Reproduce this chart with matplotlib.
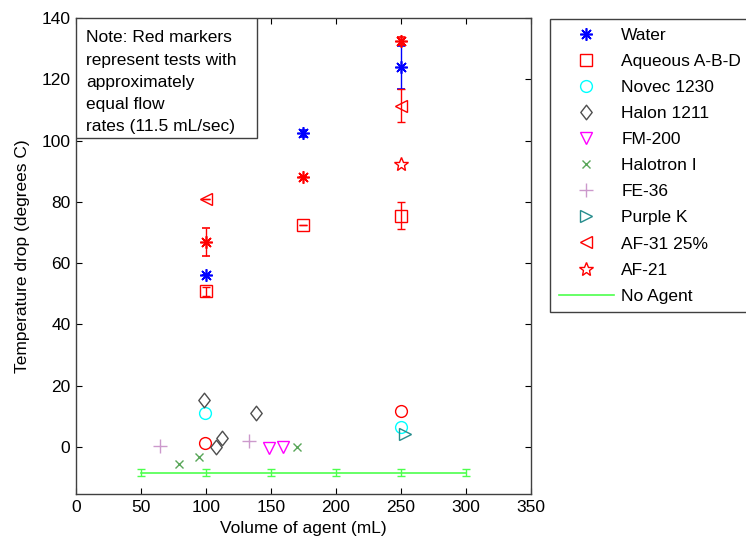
import matplotlib
matplotlib.use("Agg")
import matplotlib.pyplot as plt
from matplotlib.patches import Rectangle
from matplotlib.lines import Line2D
from matplotlib.path import Path

plt.rcParams['font.family'] = ['Liberation Sans', 'DejaVu Sans']
FS = 12.5

# ---- data ----
water_x = [100, 175, 250]
water_y = [56.0, 102.3, 123.9]
water_err = [0.0, 1.2, 7.0]
water_eq_x = [100, 175, 250]
water_eq_y = [67.0, 88.2, 132.5]
water_eq_err = [4.6, 0.0, 1.2]

aqueous_x = [100, 175, 250]
aqueous_y = [50.8, 72.3, 75.5]
aqueous_err = [1.5, 0.0, 4.3]

novec_x = [99, 250]
novec_y = [11.0, 6.4]
novec_eq_x = [99, 250]
novec_eq_y = [1.4, 11.8]

halon_x = [98.5, 108, 112, 138.5]
halon_y = [15.4, -0.1, 2.8, 11.2]

fm200_x = [148.5, 159]
fm200_y = [-0.4, 0.1]

halotron_x = [79, 94.6, 169.7]
halotron_y = [-5.6, -3.2, 0.1]

fe36_x = [65, 133.3]
fe36_y = [0.3, 2.0]

purplek_x = [253]
purplek_y = [4.1]

af31_x = [100, 250]
af31_y = [81.0, 111.4]
af31_err = [0.0, 5.3]

af21_x = [250]
af21_y = [92.4]

noagent_x = [50, 100, 150, 200, 250, 300]
noagent_y = [-8.4, -8.4, -8.4, -8.4, -8.4, -8.4]
noagent_err = [1.0, 1.0, 1.0, 1.0, 1.0, 1.0]

xticks = [0, 50, 100, 150, 200, 250, 300, 350]
yticks = [0, 20, 40, 60, 80, 100, 120, 140]

# ---- figure ----
fig = plt.figure(figsize=(7.46, 5.46), dpi=100)
ax = fig.add_axes([76/746, 52/546, 455/746, 476/546])

RED = (1, 0, 0)
BLUE = (0, 0, 1)
CYAN = (0, 1, 1)
DARK = (0.3, 0.3, 0.3)
MAG = (1, 0, 1)
GREEN = (0.35, 0.65, 0.35)
PLUM = (0.8, 0.6, 0.8)
TEAL = (0.15, 0.55, 0.55)
LGREEN = (0.3, 1.0, 0.3)

ast = (8, 2, 0)
diamond = Path([(0, 1), (0.78, 0), (0, -1), (-0.78, 0), (0, 1)],
               [Path.MOVETO, Path.LINETO, Path.LINETO, Path.LINETO, Path.CLOSEPOLY])
common = dict(linestyle='none', capsize=3, elinewidth=1, capthick=1)

styles = {
    'water': dict(marker=ast, ms=9, mew=1.2, color=BLUE),
    'water_eq': dict(marker=ast, ms=9, mew=1.2, color=RED),
    'aq': dict(marker='s', ms=8, mfc='none', mew=1, color=RED),
    'nov': dict(marker='o', ms=8.5, mfc='none', mew=1, color=CYAN),
    'nov_eq': dict(marker='o', ms=8.5, mfc='none', mew=1, color=RED),
    'hal': dict(marker=diamond, ms=10.5, mfc='none', mew=1, color=DARK),
    'fm': dict(marker='v', ms=9, mfc='none', mew=1, color=MAG),
    'hx': dict(marker='x', ms=6, mew=1, color=GREEN),
    'fe': dict(marker='+', ms=10, mew=1, color=PLUM),
    'pk': dict(marker='>', ms=9, mfc='none', mew=1, color=TEAL),
    'af31': dict(marker='<', ms=9, mfc='none', mew=1, color=RED),
    'af21': dict(marker='*', ms=10, mfc='none', mew=1, color=RED),
}

ax.errorbar(water_x, water_y, yerr=water_err, **styles['water'], **common)
ax.errorbar(water_eq_x, water_eq_y, yerr=water_eq_err, **styles['water_eq'], **common)
ax.errorbar(aqueous_x, aqueous_y, yerr=aqueous_err, **styles['aq'], **common)
ax.plot(novec_x, novec_y, linestyle='none', **styles['nov'])
ax.plot(novec_eq_x, novec_eq_y, linestyle='none', **styles['nov_eq'])
ax.plot(halon_x, halon_y, linestyle='none', **styles['hal'])
ax.plot(fm200_x, fm200_y, linestyle='none', **styles['fm'])
ax.plot(halotron_x, halotron_y, linestyle='none', **styles['hx'])
ax.plot(fe36_x, fe36_y, linestyle='none', **styles['fe'])
ax.plot(purplek_x, purplek_y, linestyle='none', **styles['pk'])
ax.errorbar(af31_x, af31_y, yerr=af31_err, **styles['af31'], **common)
ax.plot(af21_x, af21_y, linestyle='none', **styles['af21'])
ax.errorbar(noagent_x, noagent_y, yerr=noagent_err, color=LGREEN, lw=1.2,
            capsize=3, elinewidth=1, capthick=1)

ax.set_xlim(0, 350)
ax.set_ylim(-15.4, 140)
ax.set_xticks(xticks)
ax.set_yticks(yticks)
ax.tick_params(direction='in', length=4, top=True, right=True, labelsize=FS,
               width=0.8, colors='black', pad=4)
for s in ax.spines.values():
    s.set_linewidth(1.0)
    s.set_color((0.25, 0.25, 0.25))
ax.set_xlabel('Volume of agent (mL)', fontsize=FS, labelpad=5)
ax.set_ylabel('Temperature drop (degrees C)', fontsize=FS, labelpad=8)

# note box
ax.add_patch(Rectangle((0, 0.748), 0.397, 0.252, transform=ax.transAxes,
                       facecolor='white', edgecolor=(0.25, 0.25, 0.25), lw=1.0, zorder=5))
ax.text(0.023, 0.974, 'Note: Red markers\nrepresent tests with\napproximately\nequal flow\nrates (11.5 mL/sec)',
        transform=ax.transAxes, ha='left', va='top', fontsize=FS, linespacing=1.6, zorder=6)

labels = ['Water', 'Aqueous A-B-D', 'Novec 1230', 'Halon 1211', 'FM-200',
          'Halotron I', 'FE-36', 'Purple K', 'AF-31 25%', 'AF-21', 'No Agent']
keys = ['water', 'aq', 'nov', 'hal', 'fm', 'hx', 'fe', 'pk', 'af31', 'af21']
leg_handles = [Line2D([], [], linestyle='none', **styles[k]) for k in keys]
leg_handles.append(Line2D([], [], color=LGREEN, lw=1.2))
leg = fig.legend(leg_handles, labels, loc='upper left',
                 bbox_to_anchor=(550/746, 1 - 19/546), fontsize=FS, frameon=True,
                 fancybox=False, edgecolor=(0.25, 0.25, 0.25), framealpha=1,
                 handlelength=3.2, handletextpad=0.4, labelspacing=0.63,
                 borderpad=0.5, borderaxespad=0)
leg.get_frame().set_linewidth(1.0)

fig.savefig('out.png', dpi=100)
